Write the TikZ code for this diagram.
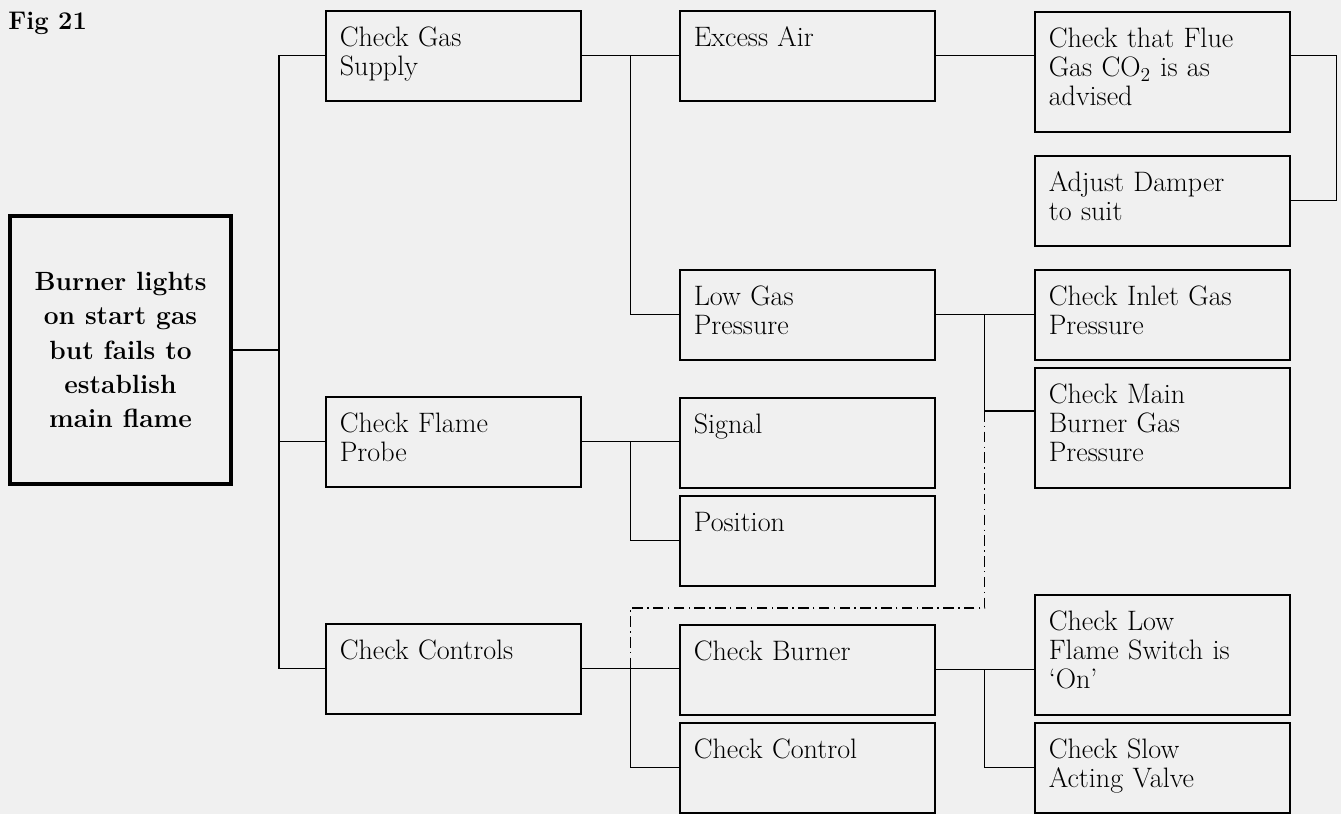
\documentclass[tikz,border=0pt]{standalone}
\usetikzlibrary{calc}
\tikzset{
  cell/.style={draw, line width=0.9pt, anchor=north west, align=left,
    text width=4.54cm, inner xsep=0.28cm, inner ysep=0pt,
    text height=0.72cm, text depth=#1,
    font=\fontsize{16}{16.5}\selectfont},
  cell/.default=1.08cm,
  mainbox/.style={draw, line width=2.2pt, minimum width=4.42cm, minimum height=5.36cm,
    align=center, inner sep=0pt, font=\bfseries\fontsize{15}{19.6}\selectfont},
  link/.style={line width=0.75pt},
  dashdotline/.style={line width=0.7pt, dash pattern=on 6pt off 2.5pt on 0.8pt off 2.5pt}
}
\begin{document}
\begin{tikzpicture}[x=0.02cm,y=-0.02cm]
\useasboundingbox (0,0) rectangle (1341,814);
\fill[black!6] (0,0) rectangle (1341,814);

\node[font=\bfseries\fontsize{14.5}{16}\selectfont, anchor=base west, inner sep=0pt] (fig) at (8,30) {Fig 21};

\node[mainbox] (main) at (120.5,350) {Burner lights\\on start gas\\but fails to\\establish\\main flame};

\node[cell] (gas) at (325,10) {Check Gas\\Supply};
\node[cell] (probe) at (325,396) {Check Flame\\Probe};
\node[cell] (controls) at (325,623) {Check Controls};

\node[cell] (excess) at (679,10) {Excess Air};
\node[cell] (lowgas) at (679,269) {Low Gas\\Pressure};
\node[cell] (signal) at (679,397) {Signal};
\node[cell] (position) at (679,495) {Position};
\node[cell] (burner) at (679,624) {Check Burner};
\node[cell] (control) at (679,722) {Check Control};

\node[cell=1.68cm] (flue) at (1034,11) {Check that Flue\\Gas CO\textsubscript{2} is as\\advised};
\node[cell] (damper) at (1034,155) {Adjust Damper\\to suit};
\node[cell] (inlet) at (1034,269) {Check Inlet Gas\\Pressure};
\node[cell=1.68cm] (mainburner) at (1034,367) {Check Main\\Burner Gas\\Pressure};
\node[cell=1.68cm] (lowflame) at (1034,594) {Check Low\\Flame Switch is\\`On'};
\node[cell] (slowvalve) at (1034,722) {Check Slow\\Acting Valve};

\coordinate (j0) at ($(main.east)!.5!(probe.west)$);
\draw[link] (main.east) -- (main.east -| j0);
\draw[link] (gas.west) -| (j0) |- (controls.west);
\draw[link] (probe.west -| j0) -- (probe.west);

\coordinate (j1) at ($(gas.east)!.5!(excess.west)$);
\draw[link] (gas.east) -- (excess.west);
\draw[link] (j1) |- (lowgas.west);

\coordinate (j2) at ($(probe.east)!.5!(signal.west)$);
\draw[link] (probe.east) -- (probe.east -| signal.west);
\draw[link] (j2) |- (position.west);

\coordinate (j5) at ($(controls.east)!.5!(burner.west)$);
\draw[link] (controls.east) -- (controls.east -| burner.west);
\draw[link] (j5) |- (control.west);

\draw[link] (excess.east) -- (excess.east -| flue.west);
\draw[link] (flue.east |- excess.east) -- ++(46,0) |- (damper.east);

\coordinate (j3) at ($(lowgas.east)!.5!(inlet.west)$);
\coordinate (j4) at ([yshift=-0.88cm]mainburner.north west);
\draw[link] (lowgas.east) -- (lowgas.east -| inlet.west);
\draw[link] (j3) |- (j4);

\coordinate (dd) at (0,608);
\draw[dashdotline] (j3 |- j4) -- (j3 |- dd) -| (j5);

\coordinate (j6) at ($(burner.east)!.5!(lowflame.west)$);
\draw[link] (burner.east) -- (burner.east -| lowflame.west);
\draw[link] (j6 |- burner.east) |- (slowvalve.west);
\end{tikzpicture}
\end{document}
